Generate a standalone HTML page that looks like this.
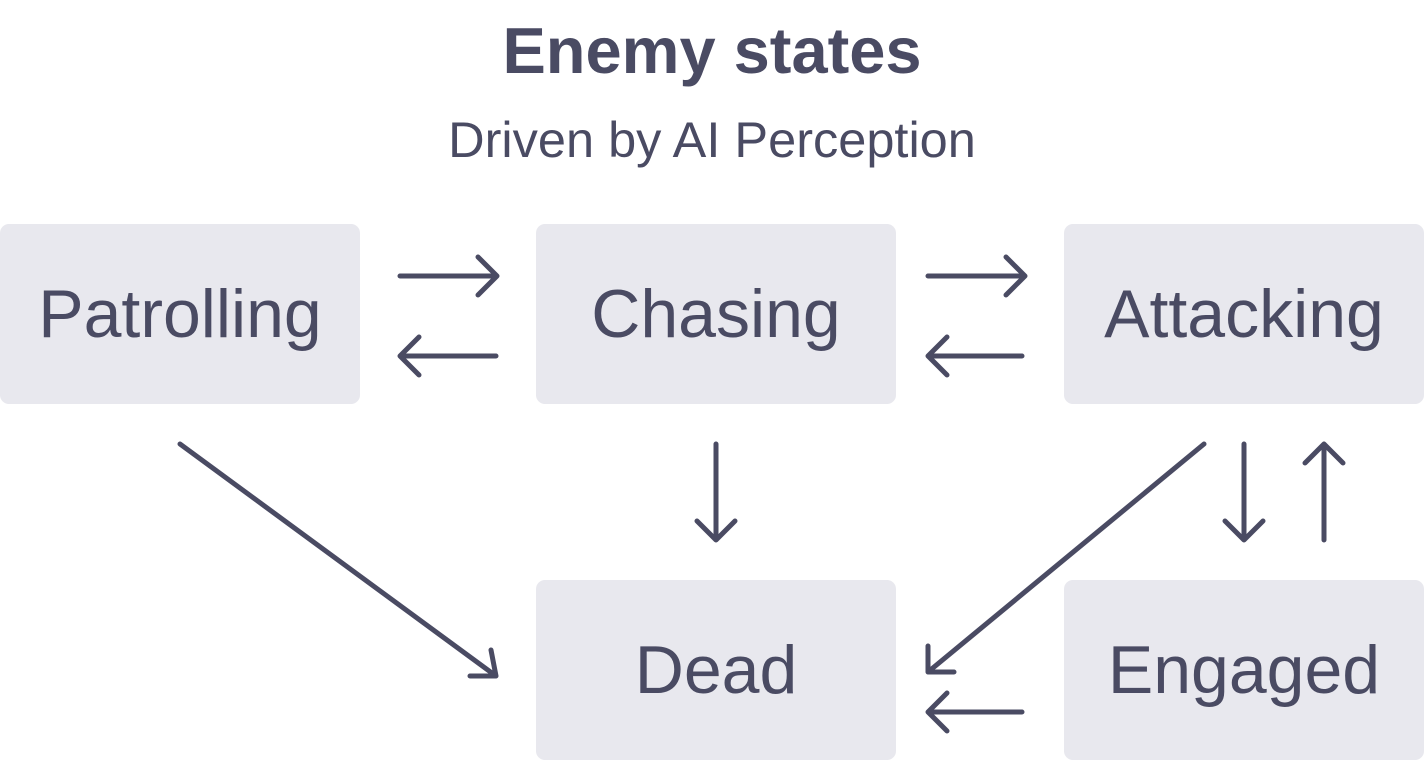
<!DOCTYPE html>
<html><head><meta charset="utf-8"><style>
body{margin:0;width:1424px;height:760px;background:#fff;position:relative;overflow:hidden;font-family:"Liberation Sans",sans-serif;color:#4a4b63}
.t{position:absolute;left:0;width:1424px;text-align:center;white-space:nowrap}
.b{position:absolute;width:360px;height:180px;background:#e8e8ee;border-radius:9px;display:flex;align-items:center;justify-content:center;font-size:68px}
</style></head><body>
<div class="t" style="top:14px;font-size:65px;font-weight:bold;line-height:74px">Enemy states</div>
<div class="t" style="top:110px;font-size:50.5px;line-height:60px">Driven by AI Perception</div>
<div class="b" style="left:0;top:224px">Patrolling</div>
<div class="b" style="left:536px;top:224px">Chasing</div>
<div class="b" style="left:1064px;top:224px">Attacking</div>
<div class="b" style="left:536px;top:580px">Dead</div>
<div class="b" style="left:1064px;top:580px">Engaged</div>
<svg width="1424" height="760" style="position:absolute;left:0;top:0" fill="none" stroke="#4a4b63" stroke-width="5" stroke-linecap="round" stroke-linejoin="round">
<path d="M400 276H497M478 257L497 276L478 295" />
<path d="M496 356H400M419 337L400 356L419 375" />
<path d="M928 276H1025M1006 257L1025 276L1006 295" />
<path d="M1022 356H928M947 337L928 356L947 375" />
<path d="M716 444V540M697 521L716 540L735 521" />
<path d="M1244 444V540M1225 521L1244 540L1263 521" />
<path d="M1324 540V444M1305 463L1324 444L1343 463" />
<path d="M1022 712H928M947 693L928 712L947 731" />
<path d="M180 444L496 676M470 676L496 676L491 650" />
<path d="M1204 444L928 672M928 646L928 672L954 672" />
</svg>
</body></html>
